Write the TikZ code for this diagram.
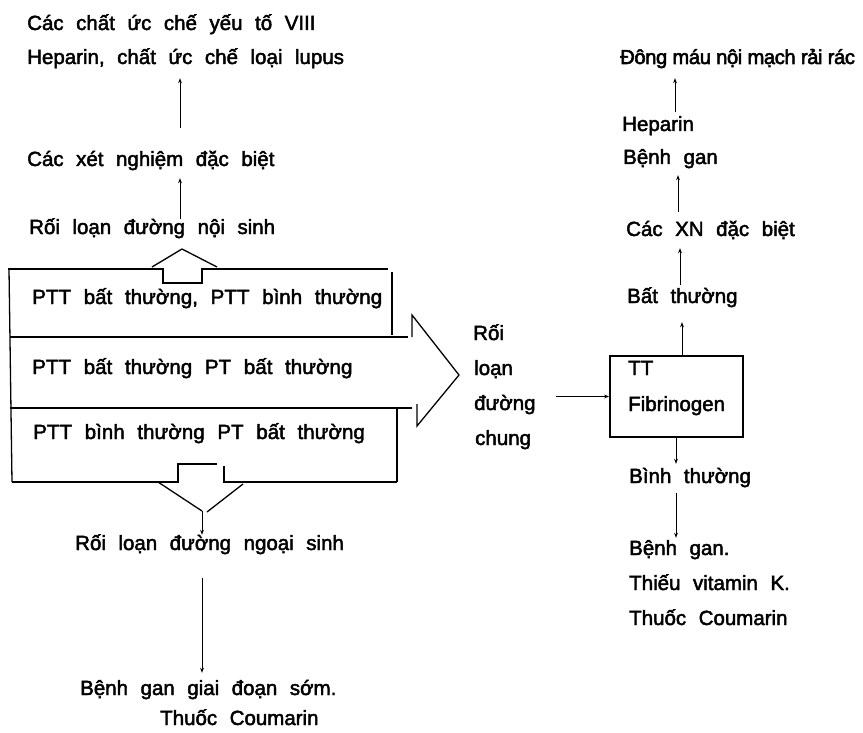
\documentclass[tikz,border=0pt]{standalone}
\usepackage{fontspec}
\setmainfont{Liberation Sans}[WordSpace=2.2, FakeBold=2.2]
\newfontfamily\densesans{Liberation Sans}[FakeBold=2.8, LetterSpace=-2]
\usetikzlibrary{arrows.meta}
\begin{document}
\begin{tikzpicture}[x=1pt,y=-1pt,
  txt/.style={inner sep=0pt, anchor=base west, text height=15pt, text depth=5pt,
              font=\fontsize{20.5}{24}\selectfont},
  rowtxt/.style={txt, font=\fontsize{20.6}{25}\selectfont},
  block/.style={line width=1.3pt, line join=miter},
  conn/.style={line width=0.8pt, -{Stealth[length=5pt,width=3.8pt]}},
  ttbox/.style={draw, line width=1.8pt, minimum width=133pt, minimum height=81pt, inner sep=0pt}
]
\useasboundingbox (0,0) rectangle (863,733);

% ---------- left column, upper part ----------
\node[txt] (inh8) at (27,30) {Các chất ức chế yếu tố VIII};
\node[txt] (hepl) at (27,64) {Heparin, chất ức chế loại lupus};
\node[txt] (xnl)  at (27,166) {Các xét nghiệm đặc biệt};
\node[txt] (nois) at (29,234) {Rối loạn đường nội sinh};

\draw[conn, shorten <=23pt, shorten >=9pt] (180,0 |- xnl.north) -- (180,0 |- hepl.south);
\draw[conn, shorten >=7pt] (180,0 |- nois.north) -- (180,0 |- xnl.south);

% ---------- three result rows inside the block arrow ----------
\node[rowtxt] (row1) at (32,304) {PTT bất thường, PTT bình thường};
\node[rowtxt] (row2) at (32,374) {PTT bất thường PT bất thường};
\node[rowtxt] (row3) at (33,439) {PTT bình thường PT bất thường};

% outline of the block with its three outgoing arrows
\draw[block] (8,269) -- (163,269) -- (163,283) -- (202,283) -- (202,269) -- (388,269);
\draw[block] (152,267) -- (182,249) -- (217,267);
\draw[block] (392,272) -- (392,335);
\draw[block] (9,269) -- (12,482);
\draw[block] (10,337) -- (408,337);
\draw[block] (412,337) -- (412,315) -- (459,375) -- (417,426) -- (417,404);
\draw[block] (10,408) -- (412,408);
\draw[block] (397,408) -- (397,482);
\draw[block] (12,482) -- (178,482) -- (178,464) -- (217,464);
\draw[block] (224,466) -- (224,482) -- (397,482);
\draw[block] (158,482) -- (202,511);
\draw[block] (243,484) -- (207,512);
\coordinate (downtip) at (202,511);

% ---------- left column, lower part ----------
\node[txt] (ngoai) at (75,550) {Rối loạn đường ngoại sinh};
\node[txt] (sgan)  at (80,695) {Bệnh gan giai đoạn sớm.};
\node[txt] (scou)  at (160,725) {Thuốc Coumarin};

\draw[conn] (downtip) -- (202,0 |- ngoai.north);
\draw[conn, shorten <=23pt, shorten >=7pt] (202,0 |- ngoai.south) -- (202,0 |- sgan.north);

% ---------- common pathway ----------
\node[txt] (c1) at (473,340) {Rối};
\node[txt] (c2) at (474,375) {loạn};
\node[txt] (c3) at (474,410) {đường};
\node[txt] (c4) at (475,445) {chung};

\node[ttbox] (tt) at (676.5,396.5) {};
\node[txt] (ttl) at (628,375) {TT};
\node[txt] (fib) at (628,411) {Fibrinogen};

\draw[conn, shorten <=20pt] (c3.east |- tt.west) -- (tt.west);

% ---------- right column ----------
\node[txt, font=\densesans\fontsize{20.2}{24}\selectfont] (dong) at (620,64) {Đông máu nội mạch rải rác};
\node[txt] (hepr)  at (622,131) {Heparin};
\node[txt] (ganr)  at (623,164) {Bệnh gan};
\node[txt] (xnr)   at (626,236) {Các XN đặc biệt};
\node[txt] (bat)   at (627,303) {Bất thường};
\node[txt] (binh)  at (629,483) {Bình thường};
\node[txt] (gan2)  at (629,555) {Bệnh gan.};
\node[txt] (vitk)  at (629,590) {Thiếu vitamin K.};
\node[txt] (cou2)  at (629,625) {Thuốc Coumarin};

\draw[conn, shorten >=14pt] (682,0 |- tt.north) -- (682,0 |- bat.south);
\draw[conn, shorten <=3pt, shorten >=7pt] (680,0 |- bat.north) -- (680,0 |- xnr.south);
\draw[conn, shorten <=9pt, shorten >=6pt] (678,0 |- xnr.north) -- (678,0 |- ganr.south);
\draw[conn, shorten <=4pt, shorten >=9pt] (675,0 |- hepr.north) -- (675,0 |- dong.south);
\draw[conn, shorten >=4pt] (676,0 |- tt.south) -- (676,0 |- binh.north);
\draw[conn, shorten <=5pt, shorten >=2pt] (676,0 |- binh.south) -- (676,0 |- gan2.north);
\end{tikzpicture}
\end{document}
